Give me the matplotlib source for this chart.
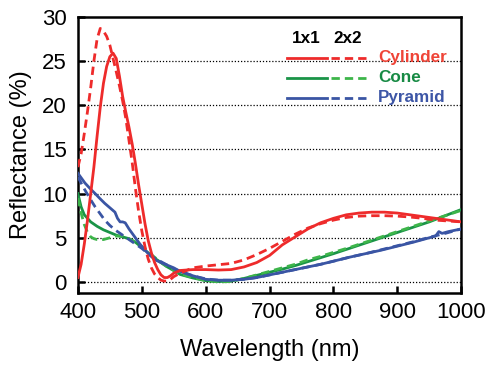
import matplotlib
matplotlib.use("Agg")
import matplotlib.pyplot as plt
from matplotlib.lines import Line2D

plt.rcParams['font.family'] = ['Liberation Sans', 'DejaVu Sans']

# ---------------- data ----------------
cyl1_wl = [400, 405, 410, 415, 420, 425, 430, 435, 440, 445, 450, 455, 460, 465, 470, 475,
           480, 485, 490, 495, 500, 505, 510, 515, 520, 525, 530, 535, 540, 545, 550, 560,
           580, 600, 620, 640, 660, 680, 700, 720, 740, 760, 780, 800, 820, 840, 860, 880,
           900, 920, 940, 960, 980, 1000]
cyl1_r = [0.5, 2.0, 4.3, 7.0, 10.0, 13.0, 16.5, 19.8, 22.5, 24.4, 25.5, 25.9, 25.3, 23.3, 21.0, 19.2,
          17.5, 15.6, 13.4, 11.0, 8.8, 6.6, 4.7, 3.3, 2.2, 1.4, 0.8, 0.5, 0.5, 0.7, 1.0, 1.3,
          1.4, 1.4, 1.35, 1.4, 1.7, 2.2, 3.0, 4.2, 5.1, 6.0, 6.7, 7.2, 7.6, 7.8, 7.9, 7.9,
          7.8, 7.6, 7.4, 7.2, 7.0, 6.8]

cyl2_wl = [400, 405, 410, 415, 420, 425, 430, 435, 440, 445, 450, 455, 460, 465, 470, 475,
           480, 485, 490, 495, 500, 505, 510, 515, 520, 525, 530, 535, 540, 545, 550, 560,
           580, 600, 620, 640, 660, 680, 700, 720, 740, 760, 780, 800, 820, 840, 860, 880,
           900, 920, 940, 960, 980, 1000]
cyl2_r = [13.0, 14.5, 16.8, 19.3, 22.0, 25.0, 27.5, 28.7, 28.4, 27.8, 26.8, 25.3, 23.8, 22.2, 20.5, 18.5,
          16.0, 13.5, 10.6, 8.0, 5.8, 4.0, 2.6, 1.6, 0.9, 0.5, 0.2, 0.1, 0.1, 0.3, 0.6, 1.0,
          1.6, 1.8, 1.95, 2.1, 2.5, 3.1, 3.8, 4.6, 5.4, 6.1, 6.6, 7.0, 7.3, 7.45, 7.5, 7.5,
          7.45, 7.35, 7.2, 7.0, 6.9, 6.8]

cone1_wl = [400, 405, 410, 420, 430, 440, 450, 460, 470, 480, 490, 500, 510, 520, 530, 540,
            550, 560, 580, 600, 620, 640, 660, 680, 700, 720, 740, 760, 780, 800, 825, 850,
            875, 900, 925, 950, 975, 1000]
cone1_r = [10.0, 8.5, 7.6, 6.8, 6.3, 5.9, 5.6, 5.3, 5.1, 4.9, 4.5, 3.9, 3.3, 2.7, 2.2, 1.7,
           1.3, 0.85, 0.45, 0.15, 0.05, 0.1, 0.4, 0.75, 1.1, 1.45, 1.85, 2.3, 2.75, 3.2, 3.8, 4.4,
           5.0, 5.6, 6.2, 6.8, 7.5, 8.2]

cone2_wl = [400, 405, 410, 415, 420, 425, 430, 440, 450, 460, 470, 480, 490, 500, 510, 520,
            530, 540, 550, 560, 580, 600, 620, 640, 660, 680, 700, 720, 740, 760, 780, 800,
            825, 850, 875, 900, 925, 950, 975, 1000]
cone2_r = [9.5, 7.8, 6.5, 5.6, 5.1, 4.9, 4.8, 4.8, 5.0, 5.2, 5.2, 4.9, 4.5, 4.0, 3.4, 2.8,
           2.2, 1.7, 1.3, 0.9, 0.5, 0.15, 0.0, 0.05, 0.4, 0.8, 1.2, 1.6, 2.0, 2.5, 2.9, 3.35,
           3.9, 4.5, 5.1, 5.7, 6.3, 6.9, 7.5, 8.1]

pyr1_wl = [400, 405, 411, 420, 427, 435, 442, 450, 458, 462, 466, 470, 474, 480, 489, 497,
           505, 513, 521, 530, 540, 550, 560, 580, 600, 620, 640, 660, 680, 700, 720, 740,
           760, 780, 800, 825, 850, 875, 900, 925, 950, 960, 965, 970, 980, 1000]
pyr1_r = [12.3, 11.8, 11.2, 10.5, 10.0, 9.4, 8.9, 8.4, 7.9, 7.2, 6.8, 6.8, 6.7, 6.0, 5.1, 4.3,
          3.6, 3.0, 2.5, 2.2, 1.9, 1.6, 1.2, 0.7, 0.3, 0.2, 0.2, 0.3, 0.5, 0.8, 1.1, 1.4,
          1.7, 2.0, 2.35, 2.8, 3.2, 3.6, 4.05, 4.5, 5.0, 5.2, 5.7, 5.5, 5.7, 6.0]

pyr2_wl = [400, 405, 411, 420, 427, 435, 442, 450, 458, 466, 474, 482, 490, 500, 510, 520,
           530, 540, 550, 560, 580, 600, 620, 640, 660, 680, 700, 720, 740, 760, 780, 800,
           825, 850, 875, 900, 925, 950, 975, 1000]
pyr2_r = [11.9, 11.2, 10.4, 9.3, 8.5, 7.7, 7.0, 6.4, 5.9, 5.5, 5.1, 4.7, 4.3, 3.8, 3.2, 2.7,
          2.3, 1.9, 1.5, 1.2, 0.7, 0.35, 0.2, 0.2, 0.3, 0.5, 0.8, 1.1, 1.4, 1.7, 2.0, 2.35,
          2.8, 3.2, 3.65, 4.1, 4.55, 5.05, 5.5, 6.0]

x_ticks = [400, 500, 600, 700, 800, 900, 1000]
y_ticks = [0, 5, 10, 15, 20, 25, 30]
group_labels = ["1x1", "2x2"]
shape_labels = ["Cylinder", "Cone", "Pyramid"]

# ---------------- styling ----------------
RED = "#EE2B2B"
GREEN_S = "#1A9447"
GREEN_D = "#3DB54A"
BLUE = "#3A55A4"
LEG_COLORS = ["#EF4437", "#178A44", "#3D56A6"]
LW = 2.0
DASH = (0, (3, 1.8))

fig = plt.figure(figsize=(4.87, 3.68), dpi=100)
ax = fig.add_axes([0.160, 0.205, 0.787, 0.749])

for y in y_ticks[:-1]:
    ax.axhline(y, color="black", lw=0.9, ls=(0, (1, 1.5)), zorder=1)

ax.plot(cone1_wl, cone1_r, color=GREEN_S, lw=LW, zorder=3)
ax.plot(cone2_wl, cone2_r, color=GREEN_D, lw=LW, ls=DASH, zorder=3)
ax.plot(pyr1_wl, pyr1_r, color=BLUE, lw=LW, zorder=4)
ax.plot(pyr2_wl, pyr2_r, color=BLUE, lw=LW, ls=DASH, zorder=4)
ax.plot(cyl1_wl, cyl1_r, color=RED, lw=LW, zorder=5)
ax.plot(cyl2_wl, cyl2_r, color=RED, lw=LW, ls=DASH, zorder=5)

ax.set_xlim(400, 1000)
ax.set_ylim(-1.2, 30)
ax.set_xticks(x_ticks)
ax.set_yticks(y_ticks)
ax.tick_params(direction="in", length=5, width=1.8, labelsize=16)
ax.tick_params(axis="x", pad=7)
ax.tick_params(axis="y", pad=8)
for s in ax.spines.values():
    s.set_linewidth(1.8)
ax.set_xlabel("Wavelength (nm)", fontsize=17)
ax.set_ylabel("Reflectance (%)", fontsize=17)
ax.xaxis.set_label_coords(0.5, -0.17)
ax.yaxis.set_label_coords(-0.12, 0.5)

# custom legend (axes coordinates)
tr = ax.transAxes
ax.text(0.597, 0.920, group_labels[0], transform=tr, fontsize=12.3, fontweight="bold",
        ha="center", va="center", color="black")
ax.text(0.704, 0.920, group_labels[1], transform=tr, fontsize=12.3, fontweight="bold",
        ha="center", va="center", color="black")
row_y = [0.851, 0.779, 0.707]
line_cols = [(RED, RED), (GREEN_S, GREEN_D), (BLUE, BLUE)]
for (cs, cd), lc, lab, yy in zip(line_cols, LEG_COLORS, shape_labels, row_y):
    ax.add_line(Line2D([0.546, 0.650], [yy, yy], transform=tr, color=cs, lw=LW))
    ax.add_line(Line2D([0.661, 0.762], [yy, yy], transform=tr, color=cd, lw=LW, ls=DASH))
    ax.text(0.783, yy, lab, transform=tr, fontsize=12.3, fontweight="bold",
            ha="left", va="center", color=lc)

fig.savefig("out.png", dpi=100)
